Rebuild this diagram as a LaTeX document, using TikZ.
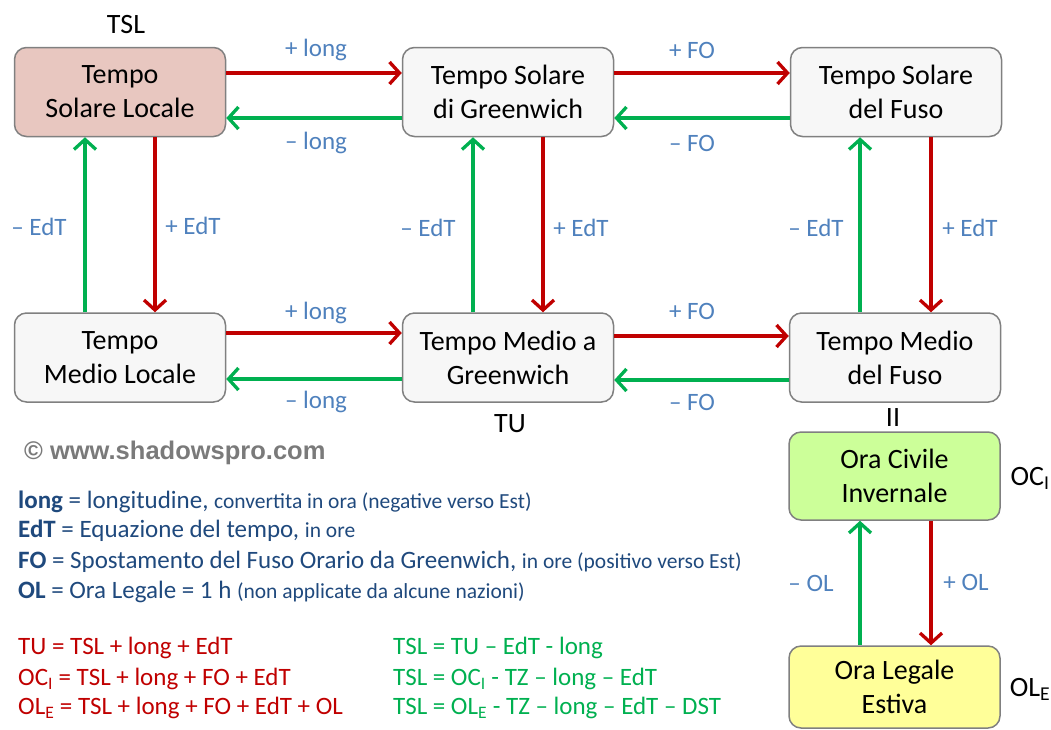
\documentclass[tikz,border=0pt]{standalone}
\usepackage{fontspec}
\setmainfont{Carlito}
\newfontfamily\wmfont{Liberation Sans}
\usetikzlibrary{arrows.meta}
\definecolor{ared}{HTML}{C00000}
\definecolor{agreen}{HTML}{00B050}
\definecolor{lblue}{HTML}{4F81BD}
\definecolor{dblue}{HTML}{1F497D}
\definecolor{bfill}{HTML}{F7F7F7}
\definecolor{tslfill}{HTML}{E8C7C0}
\definecolor{ocfill}{HTML}{CCFF99}
\definecolor{olfill}{HTML}{FFFF99}
\tikzset{
  box/.style={draw=black!50, line width=1.5pt, rounded corners=12pt, fill=bfill, minimum width=211pt, minimum height=89pt, align=center, font=\fontsize{28}{34}\selectfont, inner sep=0pt},
  redarr/.style={draw=ared, line width=3.3pt, -{Straight Barb[length=10pt,width=22pt,line width=3.3pt]}},
  grnarr/.style={draw=agreen, line width=3.3pt, -{Straight Barb[length=10pt,width=22pt,line width=3.3pt]}},
  lbl/.style={text=lblue, font=\fontsize{25}{28}\selectfont, inner sep=0pt},
  tag/.style={text=black, font=\fontsize{28}{32}\selectfont, inner sep=0pt},
  legend/.style={text=dblue, font=\fontsize{25}{28}\selectfont, anchor=west, inner sep=0pt},
  redf/.style={text=ared, font=\fontsize{25}{28}\selectfont, anchor=west, inner sep=0pt},
  grnf/.style={text=agreen, font=\fontsize{25}{28}\selectfont, anchor=west, inner sep=0pt}
}
\newcommand{\sm}[1]{{\fontsize{21.5}{24}\selectfont #1}}
\begin{document}
\begin{tikzpicture}[x=1pt,y=-1pt]
\useasboundingbox (0,0) rectangle (1051,729);
% boxes
\node[box, fill=tslfill] (tsl) at (120,92) {Tempo\\Solare Locale};
\node[box] (tsg) at (508,92) {Tempo Solare\\di Greenwich};
\node[box] (tsf) at (896,92) {Tempo Solare\\del Fuso};
\node[box] (tml) at (120,357.5) {Tempo\\Medio Locale};
\node[box] (tmg) at (508,357.5) {Tempo Medio a\\Greenwich};
\node[box] (tmf) at (895,357.5) {Tempo Medio\\del Fuso};
\node[box, fill=ocfill, minimum height=88pt] (oci) at (894.5,476) {Ora Civile\\Invernale};
\node[box, fill=olfill, minimum height=82pt] (ole) at (894.5,687) {Ora Legale\\Estiva};
% tags
\node[tag] (ttsl) at (126,25) {TSL};
\node[tag] (ttu) at (510,424) {TU};
\node[tag] (tii) at (893,418) {II};
\node[tag] (toc) at (1030,478) {OC\textsubscript{I}};
\node[tag] (tol) at (1030,689) {OL\textsubscript{E}};
% horizontal arrows row 1
\draw[redarr] (tsl.east |- 0,73) -- (tsg.west |- 0,73);
\draw[grnarr] (tsg.west |- 0,118) -- (tsl.east |- 0,118);
\draw[redarr] (tsg.east |- 0,73) -- (tsf.west |- 0,73);
\draw[grnarr] (tsf.west |- 0,118) -- (tsg.east |- 0,118);
% horizontal arrows row 2
\draw[redarr] (tml.east |- 0,333) -- (tmg.west |- 0,333);
\draw[grnarr] (tmg.west |- 0,379) -- (tml.east |- 0,379);
\draw[redarr] (tmg.east |- 0,336) -- (tmf.west |- 0,336);
\draw[grnarr] (tmf.west |- 0,380) -- (tmg.east |- 0,380);
% vertical arrows
\draw[grnarr] (tml.north -| 85,0) -- (tsl.south -| 85,0);
\draw[redarr] (tsl.south -| 155,0) -- (tml.north -| 155,0);
\draw[grnarr] (tmg.north -| 473,0) -- (tsg.south -| 473,0);
\draw[redarr] (tsg.south -| 543,0) -- (tmg.north -| 543,0);
\draw[grnarr] (tmf.north -| 860,0) -- (tsf.south -| 860,0);
\draw[redarr] (tsf.south -| 931,0) -- (tmf.north -| 931,0);
\draw[grnarr] (ole.north -| 860,0) -- (oci.south -| 860,0);
\draw[redarr] (oci.south -| 931,0) -- (ole.north -| 931,0);
% arrow labels
\node[lbl] (l1) at (316,50) {+ long};
\node[lbl] (l2) at (316,143) {– long};
\node[lbl] (l3) at (692,50) {+ FO};
\node[lbl] (l4) at (692,143) {– FO};
\node[lbl] (l5) at (316,313) {+ long};
\node[lbl] (l6) at (316,402) {– long};
\node[lbl] (l7) at (692,311) {+ FO};
\node[lbl] (l8) at (692,402) {– FO};
\node[lbl] (l9) at (39,227) {– EdT};
\node[lbl] (l10) at (193,226) {+ EdT};
\node[lbl] (l11) at (428,228) {– EdT};
\node[lbl] (l12) at (581,228) {+ EdT};
\node[lbl] (l13) at (816,228) {– EdT};
\node[lbl] (l14) at (970,228) {+ EdT};
\node[lbl] (l15) at (811,583) {– OL};
\node[lbl] (l16) at (966,582) {+ OL};
% watermark
\node[text=black!52, font=\wmfont\bfseries\fontsize{25.5}{28}\selectfont, anchor=west, inner sep=0pt] (wm) at (24,453) {© www.shadowspro.com};
% legend
\node[legend] (g1) at (18,502) {\textbf{long} = longitudine, \sm{convertita in ora (negative verso Est)}};
\node[legend] (g2) at (18,531) {\textbf{EdT} = Equazione del tempo, \sm{in ore}};
\node[legend] (g3) at (18,562) {\textbf{FO} = Spostamento del Fuso Orario da Greenwich, \sm{in ore (positivo verso Est)}};
\node[legend] (g4) at (18,592) {\textbf{OL} = Ora Legale = 1 h \sm{(non applicate da alcune nazioni)}};
% formulas
\node[redf] (f1) at (18,648) {TU = TSL + long + EdT};
\node[redf] (f2) at (18,679) {OC\textsubscript{I} = TSL + long + FO + EdT};
\node[redf] (f3) at (18,708) {OL\textsubscript{E} = TSL + long + FO + EdT + OL};
\node[grnf] (f4) at (393,648) {TSL = TU – EdT - long};
\node[grnf] (f5) at (393,679) {TSL = OC\textsubscript{I} - TZ – long – EdT};
\node[grnf] (f6) at (393,708) {TSL = OL\textsubscript{E} - TZ – long – EdT – DST};
\end{tikzpicture}
\end{document}
